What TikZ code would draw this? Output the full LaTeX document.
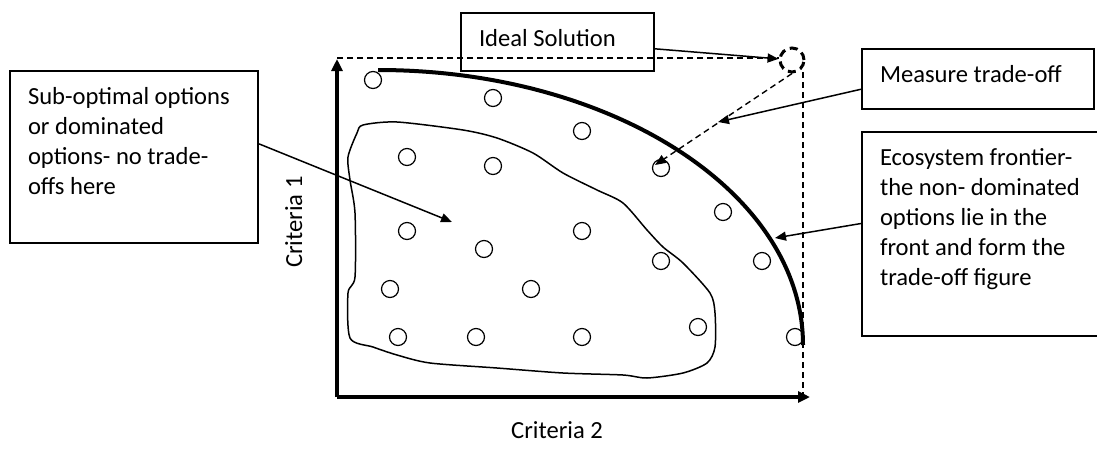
\documentclass[tikz,border=0pt]{standalone}
\usepackage{fontspec}
\setmainfont{Carlito}
\usetikzlibrary{arrows.meta}
\newcommand{\boxtext}[3]{\parbox[t][#2][t]{#1}{\raggedright\rule{0pt}{16.5pt}#3}}

\begin{document}
\begin{tikzpicture}[x=0.5pt,y=-0.5pt,
    font=\fontsize{12.3}{15}\selectfont,
    textbox/.style={draw,line width=1pt,anchor=north west,inner xsep=9pt,inner ysep=0pt},
    pointer/.style={line width=0.75pt,-{Triangle[length=5.5pt,width=4.5pt]}},
    axis/.style={line width=2pt,-{Triangle[length=6pt,width=5.5pt]}},
    guide/.style={dash pattern=on 3pt off 2pt,line width=0.7pt},
    option/.style={circle,draw,line width=0.6pt,minimum size=8.5pt,inner sep=0pt},
    frontier/.style={line width=2pt}]

    \useasboundingbox (0,0) rectangle (1097,450);

    % axes and dashed frame
    \coordinate (origin) at (337,397);
    \coordinate (ytop) at (337,58);
    \coordinate (xend) at (810,397);
    \node[circle,draw,dash pattern=on 4pt off 2.5pt,line width=1.5pt,minimum size=12pt,inner sep=0pt] (ideal) at (792,60) {};
    \draw[guide] (ytop) -- (ideal.west |- ytop);
    \draw[guide] (803,72) -- (803,397);
    \draw[axis] (origin) -- (337,59);
    \draw[axis] (origin) -- (xend);

    % axis labels
    \node[rotate=90,anchor=base] (crit1) at (302,222) {Criteria 1};
    \node[anchor=base] (crit2) at (557,438) {Criteria 2};

    % dominated region
    \draw[line width=0.75pt] plot[smooth cycle,tension=0.45] coordinates {
      (363,125) (397,122) (463,130) (497,138) (533,153) (563,173) (597,190)
      (623,203) (647,230) (663,247) (683,263) (710,293) (715,313) (715,347)
      (707,363) (683,373) (647,378) (623,375) (563,373) (497,368) (430,363)
      (397,355) (373,347) (350,338) (348,293) (355,277) (355,213) (350,180)
      (348,157) (357,133)};

    % frontier
    \draw[frontier] (378,70) arc[start angle=90,end angle=0,x radius=212.5pt,y radius=137.5pt];

    % options
    \foreach \x/\y [count=\i] in {373/80,493/98,582/131,407/157,493/166,661/168,
        723/212,407/231,484/249,582/231,661/261,762/261,390/289,531/289,
        398/337,476/337,582/337,698/327,795/337}
      \node[option] (opt\i) at (\x,\y) {};

    % text boxes
    \node[textbox] (subbox) at (9,70) {\boxtext{106pt}{86pt}{Sub-optimal options\\or dominated\\options- no trade-\\offs here}};
    \node[textbox] (idealbox) at (460,12) {\boxtext{78.5pt}{29pt}{Ideal Solution}};
    \node[textbox] (measurebox) at (861,48) {\boxtext{98pt}{30pt}{Measure trade-off}};
    \node[textbox] (ecobox) at (861,131) {\boxtext{101pt}{102pt}{Ecosystem frontier-\\the non- dominated\\options lie in the\\front and form the\\trade-off figure}};

    % pointers
    \coordinate (subtip) at (452,222);
    \coordinate (tradetip) at (718,122);
    \coordinate (measuretip) at (655,165);
    \coordinate (fronttip) at (775,238);
    \draw[pointer] (subbox.6) -- (subtip);
    \draw[pointer] (idealbox.-4) -- (ideal);
    \draw[pointer] (measurebox.185) -- (tradetip);
    \draw[pointer,guide] (ideal.south) -- (measuretip);
    \draw[pointer] (ecobox.175) -- (fronttip);
\end{tikzpicture}
\end{document}
